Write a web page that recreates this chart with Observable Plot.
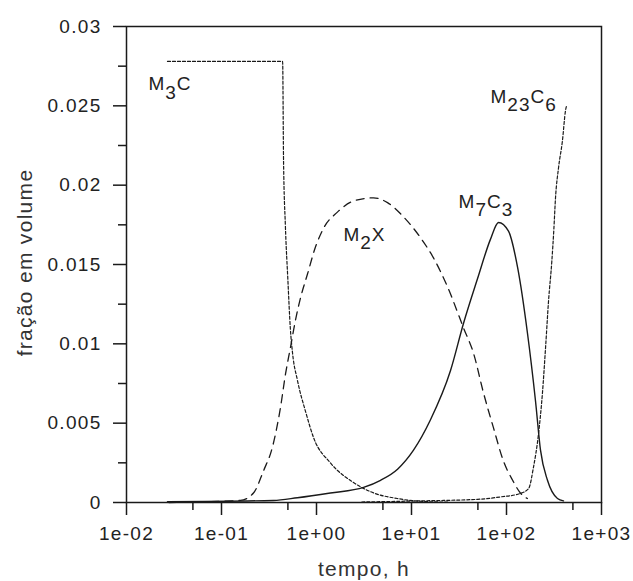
<!DOCTYPE html>
<html><head><meta charset="utf-8">
<script src="https://cdn.jsdelivr.net/npm/d3@7"></script>
<script src="https://cdn.jsdelivr.net/npm/@observablehq/plot@0.6"></script>
<style>body{margin:0;background:#fff}</style>
</head><body><div id="chart"></div>
<script>
// ---- data ----
const m3cTime  = [0.027, 0.44, 0.45, 0.47, 0.50, 0.53, 0.56, 0.63, 0.77, 0.93, 1.4, 2.45, 4.0, 7.1, 12, 25];
const m3cFrac  = [0.0278, 0.0278, 0.0215, 0.0175, 0.014, 0.011, 0.0094, 0.0077, 0.0057, 0.0041, 0.0025, 0.00126, 0.0006, 0.00025, 0.00008, 0.00002];

const m2xTime  = [0.028, 0.158, 0.217, 0.277, 0.344, 0.418, 0.472, 0.533, 0.601, 0.679, 0.804, 0.975, 1.19, 1.66, 2.45, 3.98, 5.59, 8.24, 12.4, 17.1, 23.9, 35.3, 45, 57.3, 73, 93, 116, 140, 166];
const m2xFrac  = [0, 0.00013, 0.0006, 0.002, 0.0035, 0.006, 0.0081, 0.0098, 0.0115, 0.0129, 0.0144, 0.0161, 0.0173, 0.0183, 0.019, 0.0192, 0.0189, 0.018, 0.0167, 0.0154, 0.0136, 0.011, 0.0094, 0.0069, 0.0047, 0.0026, 0.0014, 0.0006, 0.00025];

const m7c3Time = [0.027, 0.352, 0.63, 1.40, 3.13, 4.72, 7.13, 10.5, 15.8, 25.7, 35.3, 49.5, 67.9, 82.4, 105, 131, 166, 202, 228, 270, 344, 398];
const m7c3Frac = [0.00005, 0.00013, 0.0003, 0.0006, 0.00095, 0.0014, 0.0021, 0.0033, 0.0052, 0.0083, 0.0113, 0.0141, 0.0166, 0.01765, 0.0171, 0.0148, 0.0107, 0.0064, 0.0033, 0.0014, 0.00025, 0.0001];

const m23c6Time = [3, 12, 50, 86, 140, 171, 192, 217, 239, 258, 277, 300, 315, 328, 353, 388, 418, 428];
const m23c6Frac = [0.00003, 0.0001, 0.0002, 0.00035, 0.00057, 0.00088, 0.0022, 0.0043, 0.0069, 0.0098, 0.0127, 0.0152, 0.0172, 0.0192, 0.0211, 0.0228, 0.0247, 0.025];

const labelNames = ["M{3}C", "M{2}X", "M{7}C{3}", "M{23}C{6}"];
const labelTime  = [0.017, 1.92, 31.3, 67.9];
const labelFrac  = [0.02597, 0.01651, 0.01859, 0.02521];

const xMajorTicks = [0.01, 0.1, 1, 10, 100, 1000];
const xMinorTicks = [0.05, 0.5, 5, 50, 500];
const yMajorTicks = [0, 0.005, 0.01, 0.015, 0.02, 0.025, 0.03];
const yMinorTicks = [0.0025, 0.0075, 0.0125, 0.0175, 0.0225, 0.0275];

const xTitle = "tempo, h";
const yTitle = "fração em volume";

// ---- tables ----
const toRows = (t, v) => t.map((d, i) => ({t: d, v: v[i]}));
const m3c = toRows(m3cTime, m3cFrac);
const m2x = toRows(m2xTime, m2xFrac);
const m7c3 = toRows(m7c3Time, m7c3Frac);
const m23c6 = toRows(m23c6Time, m23c6Frac);
const labels = labelNames.map((n, i) => ({name: n, t: labelTime[i], v: labelFrac[i]}));

const fmtX = d => { const e = Math.round(Math.log10(d)); return "1e" + (e < 0 ? "-" : "+") + String(Math.abs(e)).padStart(2, "0"); };
const fmtY = d => String(+d.toFixed(4));

const ink = "#1a1a1a";
const hasTick = typeof Plot.axisTickX === "function";
const minorX = hasTick ? Plot.axisTickX(xMinorTicks, {tickSize: 8, strokeWidth: 1.5, stroke: ink, label: null})
                       : Plot.axisX(xMinorTicks, {tickSize: 8, tickFormat: () => "", strokeWidth: 1.5, label: null});
const minorY = hasTick ? Plot.axisTickY(yMinorTicks, {tickSize: 8, strokeWidth: 1.5, stroke: ink, label: null})
                       : Plot.axisY(yMinorTicks, {tickSize: 8, tickFormat: () => "", strokeWidth: 1.5, label: null});

const chart = Plot.plot({
  width: 633,
  height: 581,
  marginLeft: 126,
  marginRight: 32,
  marginTop: 26,
  marginBottom: 79,
  style: {fontFamily: "'Liberation Sans', Arial, sans-serif", fontSize: "19px", color: ink, background: "#fff"},
  x: {type: "log", domain: [0.01, 1000], label: null},
  y: {domain: [0, 0.03], label: null},
  marks: [
    Plot.axisX(xMajorTicks, {tickSize: 13, tickPadding: 11, tickFormat: fmtX, label: null, strokeWidth: 1.5, fill: "#222", fontSize: 19}),
    minorX,
    Plot.axisY(yMajorTicks, {tickSize: 13, tickPadding: 12, tickFormat: fmtY, label: null, strokeWidth: 1.5, fill: "#222", fontSize: 19}),
    minorY,
    Plot.line(m3c, {x: "t", y: "v", stroke: ink, strokeWidth: 1.2, strokeDasharray: "3,2", curve: "monotone-x"}),
    Plot.line(m23c6, {x: "t", y: "v", stroke: ink, strokeWidth: 1.2, strokeDasharray: "3,2", curve: "monotone-x"}),
    Plot.line(m2x, {x: "t", y: "v", stroke: ink, strokeWidth: 1.3, strokeDasharray: "8,6", curve: "monotone-x"}),
    Plot.line(m7c3, {x: "t", y: "v", stroke: ink, strokeWidth: 1.4, curve: "monotone-x"}),
    Plot.text(labels, {x: "t", y: "v", text: "name", textAnchor: "start", lineAnchor: "bottom", fontSize: 19, fill: "#222"}),
    Plot.text([xTitle], {frameAnchor: "bottom", dy: 73, textAnchor: "middle", lineAnchor: "bottom", fontSize: 21, fill: "#333"}),
    Plot.text([yTitle], {frameAnchor: "left", dx: -101, dy: -2, rotate: -90, textAnchor: "middle", lineAnchor: "middle", fontSize: 21, fill: "#333"}),
    Plot.frame({stroke: ink, strokeWidth: 1.5})
  ]
});
document.getElementById("chart").append(chart);

// text styling that Plot options do not carry (font size / letter spacing)
chart.querySelectorAll('g[aria-label="x-axis tick label"], g[aria-label="y-axis tick label"]').forEach(g => {
  g.style.fontSize = "19px";
  g.style.letterSpacing = "1.3px";
});
chart.querySelectorAll("text").forEach(el => {
  const s = el.textContent;
  if (s === xTitle || s === yTitle) { el.style.letterSpacing = "1.3px"; return; }
  if (!s.includes("{")) return;
  // subscripts: rewrite "M{3}C" into tspans
  el.style.letterSpacing = "1px";
  el.textContent = "";
  const parts = s.split(/(\{[^}]*\})/).filter(p => p.length);
  let low = false;
  for (const p of parts) {
    const ts = document.createElementNS("http://www.w3.org/2000/svg", "tspan");
    const sub = p.startsWith("{");
    ts.textContent = sub ? p.slice(1, -1) : p;
    if (sub && !low) { ts.setAttribute("dy", "0.45em"); low = true; }
    else if (!sub && low) { ts.setAttribute("dy", "-0.45em"); low = false; }
    el.append(ts);
  }
});
</script>
</body></html>
